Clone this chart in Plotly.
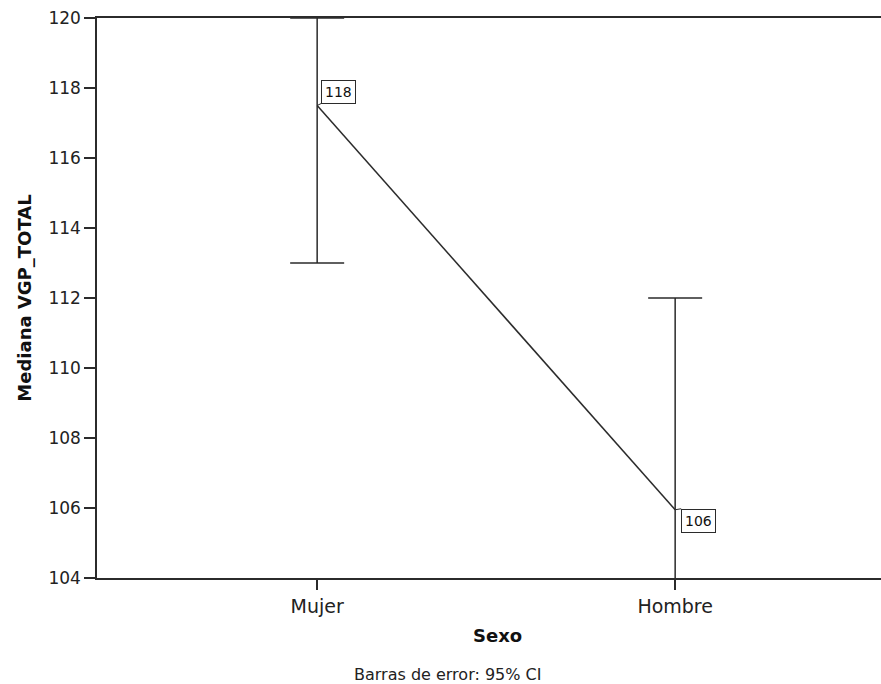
import plotly.graph_objects as go

# Median VGP_TOTAL by sex with 95% CI
categories = ["Mujer", "Hombre"]
medians = [117.5, 105.95]
ci_upper = [120, 112]
ci_lower = [113, 100]

x_idx = list(range(len(categories)))
err_plus = [u - m for u, m in zip(ci_upper, medians)]
err_minus = [m - l for m, l in zip(medians, ci_lower)]

line_col = "#2b2b2b"
font_family = "DejaVu Sans, Lucida Grande, sans-serif"

fig = go.Figure()
fig.add_trace(go.Scatter(
    x=x_idx, y=medians, mode="lines",
    line=dict(color=line_col, width=1.5),
    error_y=dict(type="data", symmetric=False, array=err_plus, arrayminus=err_minus,
                 color=line_col, thickness=1.5, width=27),
    showlegend=False, hoverinfo="skip",
))

# Value labels in boxes next to each point
offsets = [(4, -2, "bottom"), (6, -1, "top")]
for xi, m, (ax, ay, ya) in zip(x_idx, medians, offsets):
    fig.add_annotation(
        x=xi, y=m, xref="x", yref="y",
        text=f"{round(m)}", showarrow=True, arrowhead=0, arrowwidth=1,
        arrowcolor=line_col, ax=ax, ay=ay, standoff=0,
        xanchor="left", yanchor=ya,
        bordercolor=line_col, borderwidth=1, borderpad=3, bgcolor="white",
        font=dict(family=font_family, size=14, color="#111"),
    )

fig.add_annotation(text="<b>Sexo</b>", xref="paper", yref="paper", x=(497 - 97) / 784,
                   y=-(635 - 578) / 560, showarrow=False, xanchor="center", yanchor="middle",
                   font=dict(family=font_family, size=18, color="#111"))
fig.add_annotation(text="Barras de error: 95% CI", xref="paper", yref="paper",
                   x=(447 - 97) / 784, y=-(674 - 578) / 560, showarrow=False,
                   xanchor="center", yanchor="middle",
                   font=dict(family=font_family, size=16, color="#222"))

fig.update_layout(
    width=881, height=684,
    margin=dict(l=97, r=0, t=18, b=106),
    plot_bgcolor="white", paper_bgcolor="white",
    font=dict(family=font_family, size=17, color="#222"),
    xaxis=dict(
        tickmode="array", tickvals=x_idx, ticktext=categories,
        range=[-0.615, 1.575], showgrid=False, zeroline=False,
        showline=True, linecolor=line_col, linewidth=1.5, mirror=True,
        ticks="outside", ticklen=10, tickcolor=line_col, tickwidth=1.5,
        tickfont=dict(size=19),
    ),
    yaxis=dict(
        range=[104, 120], tickmode="linear", tick0=104, dtick=2,
        showgrid=False, zeroline=False,
        showline=True, linecolor=line_col, linewidth=1.5,
        ticks="outside", ticklen=11, tickcolor=line_col, tickwidth=1.5,
        tickfont=dict(size=17),
        title=dict(text="<b>Mediana VGP_TOTAL</b>", font=dict(size=18, color="#111"), standoff=12),
    ),
)

fig.write_html("out.html")
